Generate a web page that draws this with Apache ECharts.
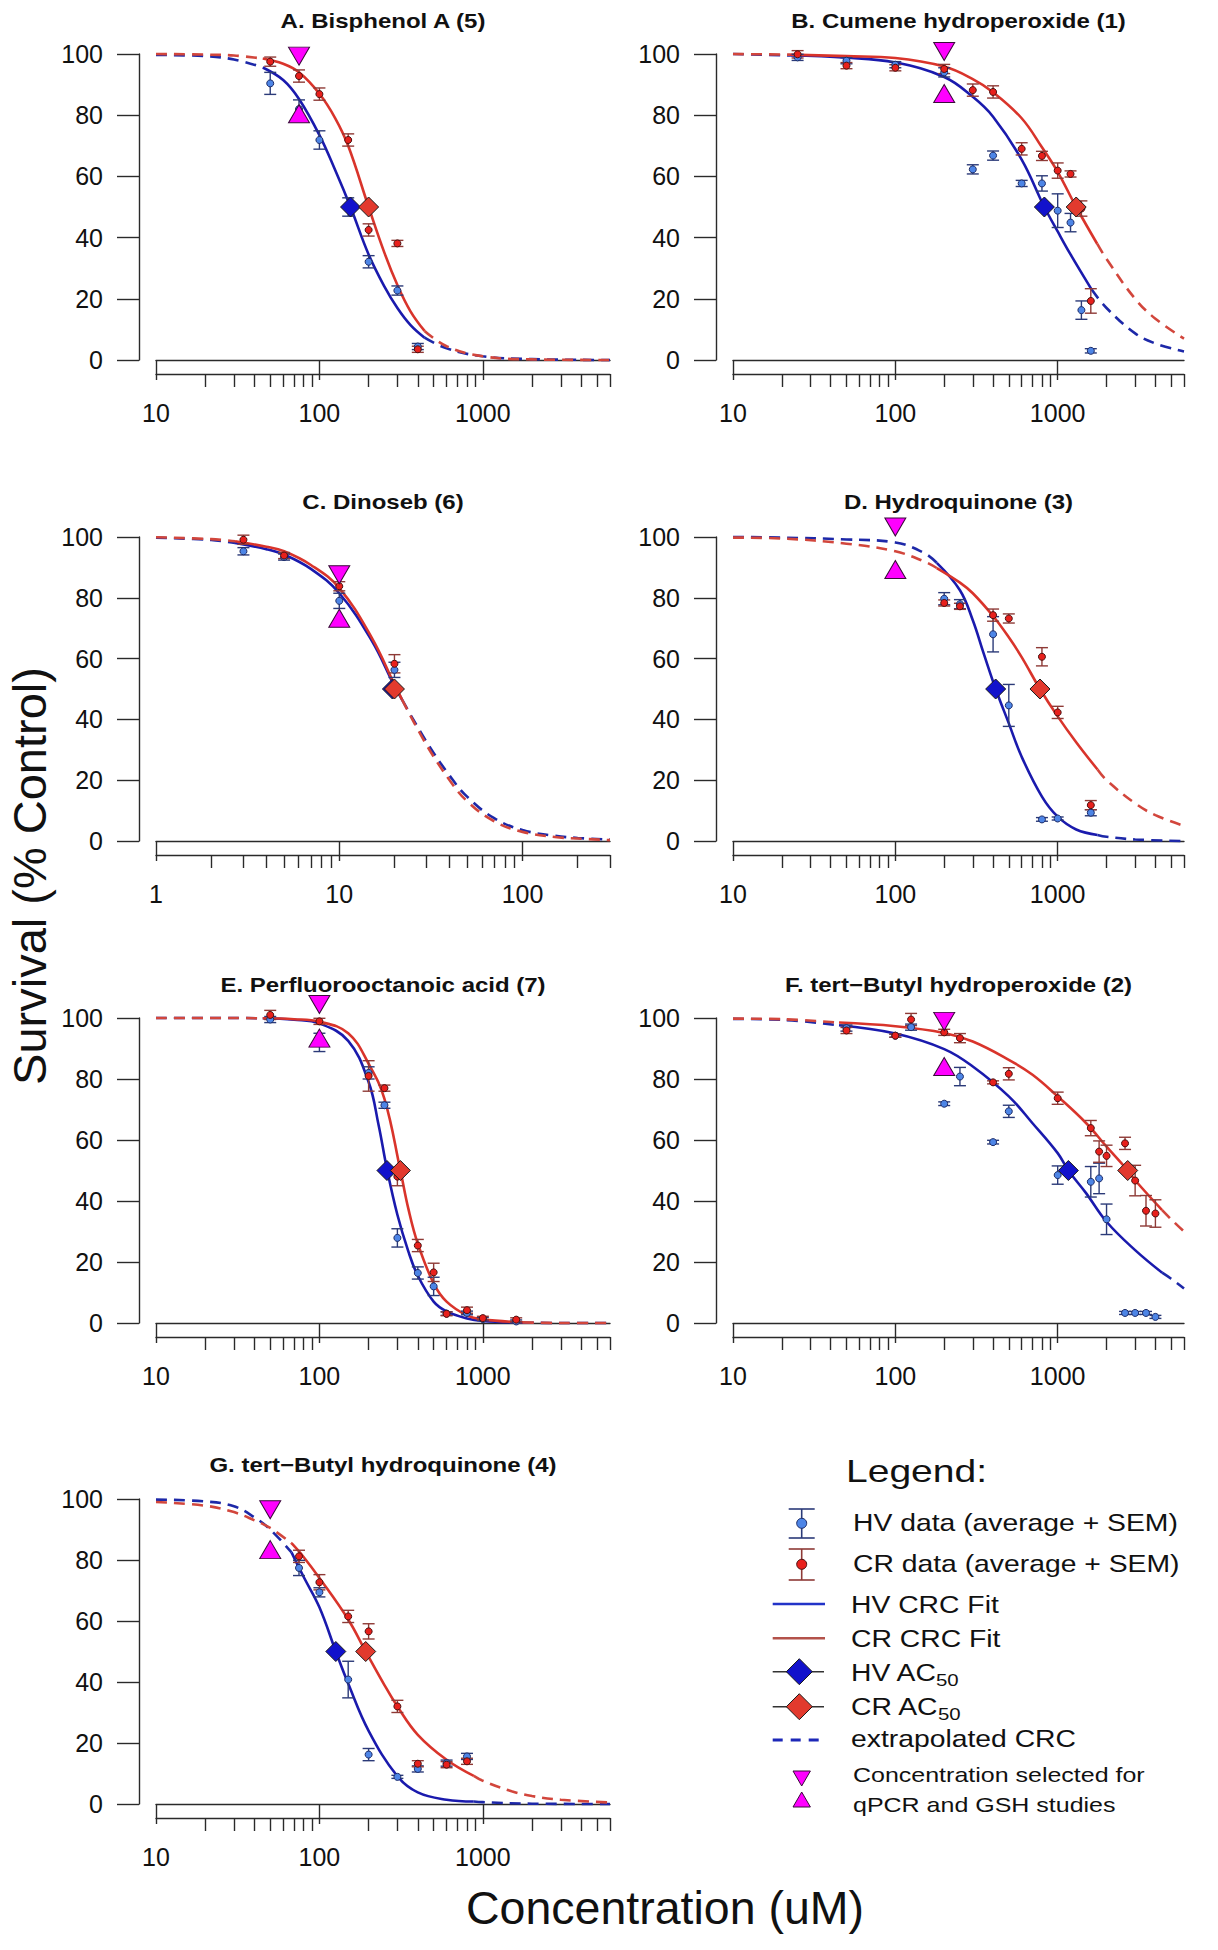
<!DOCTYPE html>
<html>
<head>
<meta charset="utf-8">
<script src="https://cdn.jsdelivr.net/npm/echarts@6/dist/echarts.min.js"></script>
<style>
html,body{margin:0;padding:0;background:#ffffff;}
#chart{width:1218px;height:1950px;}
</style>
</head>
<body>
<div id="chart"></div>
<script>
// ===================== DATA =====================
const titles = ['A. Bisphenol A (5)', 'B. Cumene hydroperoxide (1)', 'C. Dinoseb (6)', 'D. Hydroquinone (3)',
  'E. Perfluorooctanoic acid (7)', 'F. tert\u2212Butyl hydroperoxide (2)', 'G. tert\u2212Butyl hydroquinone (4)'];
const yTicks = [0, 20, 40, 60, 80, 100];
const rangeWide = [10, 6000];
const rangeC = [1, 300];
const labelsWide = [10, 100, 1000];
const labelsC = [1, 10, 100];
const minorWide = [20, 30, 40, 50, 60, 70, 80, 90, 200, 300, 400, 500, 600, 700, 800, 900, 2000, 3000, 4000, 5000, 6000];
const minorC = [2, 3, 4, 5, 6, 7, 8, 9, 20, 30, 40, 50, 60, 70, 80, 90, 200, 300];
const ac50Level = 50;

// ---- A. Bisphenol A ----
const aHvX = [50, 75, 100, 150, 200, 300, 400];
const aHvY = [90.4, 82, 71.9, 50, 32.1, 22.7, 4.4];
const aHvSem = [3.6, 3, 3, 3, 2, 1.5, 1];
const aCrX = [50, 75, 100, 150, 200, 300, 400];
const aCrY = [97.5, 92.8, 86.9, 71.9, 42.5, 38.1, 3.5];
const aCrSem = [1.5, 2, 2, 2, 2, 1, 1];
const aHvFitX = [10, 20, 30, 45, 60, 75, 100, 125, 155, 200, 250, 300, 360, 440, 600, 1000, 2000, 6000];
const aHvFitY = [99.7, 99.3, 98.2, 95.6, 91.5, 85.3, 73.5, 62, 50, 34.5, 24, 17, 11.5, 7.3, 3.8, 1.2, 0.3, 0];
const aCrFitX = [10, 20, 30, 45, 60, 75, 100, 125, 150, 200, 250, 300, 360, 440, 600, 1000, 2000, 6000];
const aCrFitY = [100, 99.8, 99.5, 98.5, 96.8, 94, 87, 79, 70, 50, 35, 24.5, 16, 9.5, 4.5, 1.2, 0.2, 0];
const aHvSolid = [45, 440];
const aCrSolid = [45, 440];
const aAc50 = [155, 200];
const aTriX = 75;
const aTriY = [99.3, 80.5];

// ---- B. Cumene hydroperoxide ----
const bHvX = [25, 50, 100, 200, 300, 400, 600, 800, 1000, 1200, 1400, 1600];
const bHvY = [98.9, 97.8, 96.5, 94, 62.3, 66.8, 57.7, 57.7, 48.8, 44.9, 16.3, 3.0];
const bHvSem = [1, 1, 1, 1.5, 1.5, 1.5, 1, 2.5, 5.5, 3, 3, 0.7];
const bCrX = [25, 50, 100, 200, 300, 400, 600, 800, 1000, 1200, 1400, 1600];
const bCrY = [99.9, 96.2, 95.5, 95.1, 88.2, 87.6, 69.0, 66.7, 61.9, 60.8, 49.5, 19.3];
const bCrSem = [1.2, 1, 1, 1.5, 2, 2, 2, 1.5, 2.5, 1, 2.5, 4];
const bHvFitX = [10, 22.5, 50, 100, 200, 300, 400, 600, 828, 1000, 1200, 1620, 2000, 3000, 4000, 6000];
const bHvFitY = [100, 99.5, 98.8, 97.2, 92.5, 86, 79.5, 65.5, 50, 42, 34.5, 23, 17, 8.7, 5.4, 2.8];
const bCrFitX = [10, 22.5, 50, 100, 200, 300, 400, 600, 800, 1000, 1300, 1750, 2000, 3000, 4000, 6000];
const bCrFitY = [100, 99.8, 99.3, 98.7, 95.9, 91.8, 87.5, 79, 69.5, 61.5, 50, 38, 33, 20, 13.5, 7];
const bHvSolid = [22.5, 1620];
const bCrSolid = [22.5, 1750];
const bAc50 = [828, 1300];
const bTriX = 200;
const bTriY = [100.8, 87.1];

// ---- C. Dinoseb ----
const cHvX = [3, 5, 10, 20];
const cHvY = [95.3, 93.4, 79, 56.3];
const cHvSem = [1.2, 1, 2.5, 2.5];
const cCrX = [3, 5, 10, 20];
const cCrY = [99.1, 93.9, 83.8, 58.3];
const cCrSem = [1.5, 1, 1.5, 3];
const cHvFitX = [1, 2, 2.7, 4, 5, 7, 10, 15, 20, 22, 30, 40, 50, 70, 100, 150, 200, 300];
const cHvFitY = [99.8, 99, 98, 96, 94.2, 89.5, 81.5, 66, 51, 46.5, 32.5, 21.5, 14.5, 7.5, 3.6, 1.7, 1, 0.5];
const cCrFitX = [1, 2, 2.7, 4, 5, 7, 10, 15, 20, 22, 30, 40, 50, 70, 100, 150, 200, 300];
const cCrFitY = [99.9, 99.3, 98.6, 96.8, 95.3, 90.8, 83.2, 67, 51.5, 46.5, 31.5, 20, 13, 6.5, 3, 1.3, 0.8, 0.3];
const cHvSolid = [2.7, 22];
const cCrSolid = [2.7, 22];
const cAc50 = [19.5, 20];
const cTriX = 10;
const cTriY = [87.6, 73.3];

// ---- D. Hydroquinone ----
const dHvX = [200, 250, 400, 500, 800, 1000, 1600];
const dHvY = [79.7, 77.9, 68.0, 44.6, 7.1, 7.4, 9.3];
const dHvSem = [2, 1.5, 5.8, 6.9, 0.6, 0.5, 1];
const dCrX = [200, 250, 400, 500, 800, 1000, 1600];
const dCrY = [78.3, 77.2, 74.3, 73.2, 60.6, 42.3, 11.8];
const dCrSem = [1, 1, 2, 1.5, 3, 2, 1.5];
const dHvFitX = [10, 20, 50, 100, 150, 180, 250, 300, 350, 415, 500, 600, 800, 1000, 1300, 1760, 2000, 3000, 6000];
const dHvFitY = [100, 99.8, 99.2, 98.2, 94.8, 91.5, 82.5, 72.6, 61.7, 50, 38.7, 27.7, 14.6, 8, 3.8, 2, 1.4, 0.5, 0];
const dCrFitX = [10, 20, 50, 100, 150, 180, 250, 300, 400, 500, 600, 778, 1000, 1300, 1760, 2000, 3000, 4000, 6000];
const dCrFitY = [99.8, 99.5, 97.8, 95.3, 92, 89.8, 85, 81.5, 74, 67, 60.5, 50, 41, 32.5, 23.5, 20, 12.4, 8.5, 5];
const dHvSolid = [180, 1760];
const dCrSolid = [180, 1760];
const dAc50 = [415, 778];
const dTriX = 100;
const dTriY = [103.3, 89.3];

// ---- E. Perfluorooctanoic acid ----
const eHvX = [50, 100, 200, 250, 300, 400, 500, 600, 800, 1000, 1600];
const eHvY = [99.5, 92, 82, 71.4, 27.9, 16.4, 12, 3.1, 3.3, 1.3, 0.5];
const eHvSem = [1, 3, 2, 1, 3, 2, 3, 0.6, 0.6, 0.5, 0.5];
const eCrX = [50, 100, 200, 250, 300, 400, 500, 600, 800, 1000, 1600];
const eCrY = [101, 98.9, 81, 77, 48, 25.4, 16.6, 3, 4.2, 1.6, 1.1];
const eCrSem = [1.5, 1, 5, 1, 3, 2, 3, 0.6, 1, 0.6, 0.6];
const eHvFitX = [10, 30, 45, 70, 100, 150, 200, 230, 259, 300, 350, 400, 500, 600, 800, 1000, 1760, 3000, 6000];
const eHvFitY = [100, 100, 99.9, 99.4, 98.2, 92.5, 79, 65, 50.5, 35.5, 23.5, 15.5, 7, 3.8, 1.5, 0.7, 0.1, 0, 0];
const eCrFitX = [10, 30, 45, 70, 100, 150, 200, 250, 313, 350, 400, 500, 600, 800, 1000, 1760, 3000, 6000];
const eCrFitY = [100, 100, 99.9, 99.6, 98.8, 95, 85, 73.5, 50, 37.5, 26, 13, 7, 2.5, 1.2, 0.2, 0, 0];
const eHvSolid = [45, 1760];
const eCrSolid = [45, 1760];
const eAc50 = [259, 313];
const eTriX = 100;
const eTriY = [104.4, 93.4];

// ---- F. tert-Butyl hydroperoxide ----
const fHvX = [50, 100, 125, 200, 250, 400, 500, 1000, 1600, 1800, 2000, 2600, 3000, 3500, 4000];
const fHvY = [96.7, 94.2, 97, 71.9, 80.8, 59.3, 69.4, 48.5, 46.3, 47.4, 34, 3.3, 3.3, 3.3, 2.0];
const fHvSem = [1, 0.5, 1, 0.6, 3, 0.6, 2, 3, 5, 5, 5, 0.5, 0.5, 0.5, 0.5];
const fCrX = [50, 100, 125, 200, 250, 400, 500, 1000, 1600, 1800, 2000, 2600, 3000, 3500, 4000];
const fCrY = [95.9, 94.2, 99.5, 95.3, 93.4, 78.9, 81.7, 73.7, 63.9, 56.2, 54.8, 58.9, 46.7, 36.8, 35.9];
const fCrSem = [1, 0.5, 2, 1, 1.5, 0.5, 2, 2, 2.5, 3.5, 3.5, 2, 5, 5, 4.5];
const fHvFitX = [10, 20, 45, 100, 200, 300, 500, 700, 1000, 1164, 1500, 2000, 3000, 4400, 5000, 6000];
const fHvFitY = [99.7, 99.4, 97.6, 94.9, 89.8, 84.1, 74.3, 65.5, 55.7, 50, 42.5, 33.2, 23.9, 16.5, 14.5, 11.3];
const fCrFitX = [10, 20, 45, 100, 200, 300, 500, 700, 1000, 1500, 2000, 2700, 3000, 4400, 5000, 6000];
const fCrFitY = [99.8, 99.6, 98.5, 97.3, 95.1, 92.3, 86.3, 81.4, 74.3, 65.5, 57.8, 50, 46.8, 37, 34, 30];
const fHvSolid = [45, 4400];
const fCrSolid = [45, 4400];
const fAc50 = [1164, 2700];
const fTriX = 200;
const fTriY = [98.9, 84.1];

// ---- G. tert-Butyl hydroquinone ----
const gHvX = [75, 100, 150, 200, 300, 400, 600, 800];
const gHvY = [77.4, 69.4, 40.8, 16.2, 8.9, 11.5, 13.4, 15.6];
const gHvSem = [2.5, 1.5, 6, 2, 0.5, 1, 1, 1];
const gCrX = [75, 100, 150, 200, 300, 400, 600, 800];
const gCrY = [81.2, 72.7, 61.5, 56.6, 32.0, 13.2, 12.9, 14.0];
const gCrSem = [2, 2.5, 2, 2.5, 2, 1, 1, 1];
const gHvFitX = [10, 20, 30, 40, 50, 67.5, 80, 100, 126, 150, 200, 300, 400, 600, 880, 1000, 2000, 6000];
const gHvFitY = [99.8, 99.2, 97.6, 94, 90, 82.5, 74.5, 64.5, 50, 39.5, 24, 9.1, 3.8, 1.4, 0.8, 0.6, 0.1, 0];
const gCrFitX = [10, 20, 30, 40, 50, 67.5, 80, 100, 150, 192, 250, 300, 400, 600, 880, 1000, 1500, 2000, 3000, 6000];
const gCrFitY = [99, 97.8, 95.7, 93, 90.5, 85.5, 81, 74.1, 60.5, 50, 39, 32, 22.7, 14.5, 9.2, 7.6, 4.2, 2.6, 1.4, 0.5];
const gHvSolid = [67.5, 880];
const gCrSolid = [67.5, 880];
const gAc50 = [126, 192];
const gTriX = 50;
const gTriY = [96.5, 83.4];

// Texts
const legendTitle = 'Legend:';
const legendLabels = ['HV data (average + SEM)', 'CR data (average + SEM)', 'HV CRC Fit', 'CR CRC Fit', 'HV AC', 'CR AC', 'extrapolated CRC', 'Concentration selected for', 'qPCR and GSH studies'];
const subscript = '50';
const yTitle = 'Survival (% Control)';
const xTitle = 'Concentration (uM)';

// ===================== assemble panels =====================
const panels = [
  {hv: [aHvX, aHvY, aHvSem, aHvFitX, aHvFitY, aHvSolid], cr: [aCrX, aCrY, aCrSem, aCrFitX, aCrFitY, aCrSolid], ac: aAc50, tx: aTriX, ty: aTriY, range: rangeWide, lab: labelsWide, minor: minorWide},
  {hv: [bHvX, bHvY, bHvSem, bHvFitX, bHvFitY, bHvSolid], cr: [bCrX, bCrY, bCrSem, bCrFitX, bCrFitY, bCrSolid], ac: bAc50, tx: bTriX, ty: bTriY, range: rangeWide, lab: labelsWide, minor: minorWide},
  {hv: [cHvX, cHvY, cHvSem, cHvFitX, cHvFitY, cHvSolid], cr: [cCrX, cCrY, cCrSem, cCrFitX, cCrFitY, cCrSolid], ac: cAc50, tx: cTriX, ty: cTriY, range: rangeC, lab: labelsC, minor: minorC},
  {hv: [dHvX, dHvY, dHvSem, dHvFitX, dHvFitY, dHvSolid], cr: [dCrX, dCrY, dCrSem, dCrFitX, dCrFitY, dCrSolid], ac: dAc50, tx: dTriX, ty: dTriY, range: rangeWide, lab: labelsWide, minor: minorWide},
  {hv: [eHvX, eHvY, eHvSem, eHvFitX, eHvFitY, eHvSolid], cr: [eCrX, eCrY, eCrSem, eCrFitX, eCrFitY, eCrSolid], ac: eAc50, tx: eTriX, ty: eTriY, range: rangeWide, lab: labelsWide, minor: minorWide},
  {hv: [fHvX, fHvY, fHvSem, fHvFitX, fHvFitY, fHvSolid], cr: [fCrX, fCrY, fCrSem, fCrFitX, fCrFitY, fCrSolid], ac: fAc50, tx: fTriX, ty: fTriY, range: rangeWide, lab: labelsWide, minor: minorWide},
  {hv: [gHvX, gHvY, gHvSem, gHvFitX, gHvFitY, gHvSolid], cr: [gCrX, gCrY, gCrSem, gCrFitX, gCrFitY, gCrSolid], ac: gAc50, tx: gTriX, ty: gTriY, range: rangeWide, lab: labelsWide, minor: minorWide}
];

// ===================== layout & style =====================
const FONT = '"Liberation Sans", Arial, Helvetica, sans-serif';
const colLeft = [156, 733];
const colWidth = [454, 451];
const rowTop = [54, 537, 1018, 1499];
const rowHeight = [306, 304, 305, 305];
const titleY = [21, 502, 985, 1465];
const AXIS = '#2a2a2a';
const C = {
  hvLine: '#1a1aad', crLine: '#d9342b',
  hvDash: '#1d28a8', crDash: '#d2463c',
  hvPt: '#4d85e6', hvPtBorder: '#1d2b66',
  crPt: '#e8201c', crPtBorder: '#4a1010',
  hvErr: '#2b3a78', crErr: '#8e3a36',
  hvDia: '#1212cc', crDia: '#e23a2e',
  tri: '#ff00ff'
};

const grids = [], xAxes = [], yAxes = [], series = [], graphics = [];

function split(xs, ys, lo, hi) {
  const L = [], M = [], R = [];
  xs.forEach((x, k) => {
    const p = [x, ys[k]];
    if (x <= lo) L.push(p);
    if (x >= lo && x <= hi) M.push(p);
    if (x >= hi) R.push(p);
  });
  return [L, M, R];
}

function errRender(color) {
  return function (params, api) {
    const x = api.value(0), lo = api.value(1), hi = api.value(2);
    const p1 = api.coord([x, lo]), p2 = api.coord([x, hi]);
    const w = 6;
    const st = {stroke: color, lineWidth: 1.4};
    return {type: 'group', children: [
      {type: 'line', shape: {x1: p1[0], y1: p1[1], x2: p2[0], y2: p2[1]}, style: st},
      {type: 'line', shape: {x1: p1[0] - w, y1: p1[1], x2: p1[0] + w, y2: p1[1]}, style: st},
      {type: 'line', shape: {x1: p2[0] - w, y1: p2[1], x2: p2[0] + w, y2: p2[1]}, style: st}
    ]};
  };
}

panels.forEach((p, i) => {
  const col = i % 2, row = Math.floor(i / 2);
  const left = colLeft[col], width = colWidth[col], top = rowTop[row], height = rowHeight[row];
  grids.push({left: left, top: top, width: width, height: height, containLabel: false});
  const base = {
    type: 'log', logBase: 10, gridIndex: i, min: p.range[0], max: p.range[1],
    position: 'bottom', offset: 14, splitLine: {show: false}, minorTick: {show: false},
    axisLine: {show: true, lineStyle: {color: AXIS, width: 1.4}}
  };
  xAxes.push(Object.assign({}, base, {
    axisTick: {show: true, length: 20, customValues: p.lab, lineStyle: {color: AXIS, width: 1.4}},
    axisLabel: {show: true, customValues: p.lab, fontSize: 25, fontFamily: FONT, color: '#111', margin: 26,
      formatter: v => String(Math.round(v))}
  }));
  xAxes.push(Object.assign({}, base, {
    axisTick: {show: true, length: 13, customValues: p.minor, lineStyle: {color: AXIS, width: 1.4}},
    axisLabel: {show: false}
  }));
  yAxes.push({
    type: 'value', gridIndex: i, min: yTicks[0], max: yTicks[yTicks.length - 1], interval: yTicks[1] - yTicks[0],
    position: 'left', offset: 17, splitLine: {show: false},
    axisLine: {show: true, lineStyle: {color: AXIS, width: 1.4}},
    axisTick: {show: true, length: 22, lineStyle: {color: AXIS, width: 1.4}},
    axisLabel: {fontSize: 25, fontFamily: FONT, color: '#111', margin: 36}
  });
  const xi = 2 * i, yi = i;
  // fitted curves (solid inside tested range, dashed extrapolation outside); CR drawn over HV
  [[p.hv, C.hvLine, C.hvDash, 2], [p.cr, C.crLine, C.crDash, 2.1]].forEach(([d, solidCol, dashCol, z]) => {
    const segs = split(d[3], d[4], d[5][0], d[5][1]);
    segs.forEach((seg, k) => {
      if (seg.length < 2) return;
      series.push({
        type: 'line', xAxisIndex: xi, yAxisIndex: yi, data: seg, showSymbol: false, symbol: 'none',
        smooth: 0.4, clip: false, silent: true, z: z,
        lineStyle: {color: k === 1 ? solidCol : dashCol, width: 2.6, type: k === 1 ? 'solid' : [11, 7], cap: 'butt'}
      });
    });
  });
  // error bars
  [[p.hv, C.hvErr], [p.cr, C.crErr]].forEach(([d, ec]) => {
    series.push({
      type: 'custom', xAxisIndex: xi, yAxisIndex: yi, clip: false, silent: true, z: 3,
      data: d[0].map((x, k) => [x, d[1][k] - d[2][k], d[1][k] + d[2][k]]),
      encode: {x: 0, y: [1, 2]}, renderItem: errRender(ec)
    });
  });
  // averages
  [[p.hv, C.hvPt, C.hvPtBorder], [p.cr, C.crPt, C.crPtBorder]].forEach(([d, pc, pb]) => {
    series.push({
      type: 'scatter', xAxisIndex: xi, yAxisIndex: yi, clip: false, silent: true, z: 4,
      data: d[0].map((x, k) => [x, d[1][k]]), symbol: 'circle', symbolSize: 7,
      itemStyle: {color: pc, borderColor: pb, borderWidth: 1, opacity: 1}
    });
  });
  // AC50 diamonds
  series.push({type: 'scatter', xAxisIndex: xi, yAxisIndex: yi, clip: false, silent: true, z: 5,
    data: [[p.ac[0], ac50Level]], symbol: 'diamond', symbolSize: [20, 20],
    itemStyle: {color: C.hvDia, borderColor: '#1a1a1a', borderWidth: 1, opacity: 1}});
  series.push({type: 'scatter', xAxisIndex: xi, yAxisIndex: yi, clip: false, silent: true, z: 5,
    data: [[p.ac[1], ac50Level]], symbol: 'diamond', symbolSize: [20, 20],
    itemStyle: {color: C.crDia, borderColor: '#1a1a1a', borderWidth: 1, opacity: 1}});
  // selected concentration triangles
  series.push({type: 'scatter', xAxisIndex: xi, yAxisIndex: yi, clip: false, silent: true, z: 6,
    data: [[p.tx, p.ty[0]]], symbol: 'triangle', symbolSize: [21, 18], symbolRotate: 180,
    itemStyle: {color: C.tri, borderColor: '#3a0a3a', borderWidth: 1, opacity: 1}});
  series.push({type: 'scatter', xAxisIndex: xi, yAxisIndex: yi, clip: false, silent: true, z: 6,
    data: [[p.tx, p.ty[1]]], symbol: 'triangle', symbolSize: [21, 18],
    itemStyle: {color: C.tri, borderColor: '#3a0a3a', borderWidth: 1, opacity: 1}});
  // panel title
  graphics.push({type: 'text', x: left + width / 2, y: titleY[row], scaleX: 1.2, silent: true,
    style: {text: titles[i], fontSize: 20, fontWeight: 'bold', fontFamily: FONT, fill: '#111',
      align: 'center', verticalAlign: 'middle', textAlign: 'center', textVerticalAlign: 'middle'}});
});

// axis titles
graphics.push({type: 'text', x: 29, y: 876, rotation: Math.PI / 2, silent: true,
  style: {text: yTitle, fontSize: 47, fontFamily: FONT, fill: '#111', align: 'center', verticalAlign: 'middle', textAlign: 'center', textVerticalAlign: 'middle'}});
graphics.push({type: 'text', x: 665, y: 1908, silent: true,
  style: {text: xTitle, fontSize: 46.5, fontFamily: FONT, fill: '#111', align: 'center', verticalAlign: 'middle', textAlign: 'center', textVerticalAlign: 'middle'}});

// legend (drawn as graphic elements)
function txt(x, y, s, size, sx) {
  return {type: 'text', x: x, y: y, scaleX: sx || 1, silent: true,
    style: {text: s, fontSize: size, fontFamily: FONT, fill: '#111', align: 'left', verticalAlign: 'middle', textAlign: 'left', textVerticalAlign: 'middle'}};
}
function hline(x1, x2, y, color, w, dash) {
  return {type: 'line', silent: true, shape: {x1: x1, y1: y, x2: x2, y2: y},
    style: {stroke: color, lineWidth: w, lineDash: dash || null}};
}
function errIcon(cx, y1, y2, yc, ec, fill, border) {
  return [
    {type: 'line', silent: true, shape: {x1: cx, y1: y1, x2: cx, y2: y2}, style: {stroke: ec, lineWidth: 1.6}},
    hline(cx - 13, cx + 13, y1, ec, 1.6), hline(cx - 13, cx + 13, y2, ec, 1.6),
    {type: 'circle', silent: true, shape: {cx: cx, cy: yc, r: 5}, style: {fill: fill, stroke: border, lineWidth: 1}}
  ];
}
function diamond(cx, cy, s, fill) {
  return {type: 'polygon', silent: true, shape: {points: [[cx, cy - s], [cx + s, cy], [cx, cy + s], [cx - s, cy]]},
    style: {fill: fill, stroke: '#1a1a1a', lineWidth: 1}};
}
const lgX = 801.7, lgT = 851;
graphics.push(txt(846, 1471, legendTitle, 32, 1.22));
errIcon(lgX, 1509, 1538, 1523.3, C.hvErr, C.hvPt, C.hvPtBorder).forEach(g => graphics.push(g));
graphics.push(txt(lgT + 2, 1523, legendLabels[0], 24, 1.18));
errIcon(lgX, 1549, 1580, 1564.3, C.crErr, C.crPt, C.crPtBorder).forEach(g => graphics.push(g));
graphics.push(txt(lgT + 2, 1564, legendLabels[1], 24, 1.18));
graphics.push(hline(772.7, 825, 1604, '#2233c8', 2.6));
graphics.push(txt(lgT, 1605, legendLabels[2], 24, 1.18));
graphics.push(hline(772.7, 825, 1638.3, '#b3524a', 2.6));
graphics.push(txt(lgT, 1639, legendLabels[3], 24, 1.18));
graphics.push(hline(772.7, 824, 1671.7, '#333333', 1.6));
graphics.push(diamond(799.3, 1671.7, 13, C.hvDia));
graphics.push(txt(lgT, 1673, legendLabels[4], 24, 1.18));
graphics.push(txt(lgT + 85, 1680, subscript, 17, 1.2));
graphics.push(hline(772.7, 824, 1706.7, '#333333', 1.6));
graphics.push(diamond(799.3, 1706.7, 13, C.crDia));
graphics.push(txt(lgT, 1707, legendLabels[5], 24, 1.18));
graphics.push(txt(lgT + 87, 1714, subscript, 17, 1.2));
graphics.push(hline(772.7, 826, 1740, '#1d28b8', 3, [10, 8]));
graphics.push(txt(lgT, 1739, legendLabels[6], 24, 1.18));
graphics.push({type: 'polygon', silent: true, shape: {points: [[793, 1771], [810.4, 1771], [801.7, 1786]]},
  style: {fill: C.tri, stroke: '#3a0a3a', lineWidth: 1}});
graphics.push({type: 'polygon', silent: true, shape: {points: [[793, 1807], [810.4, 1807], [801.7, 1792]]},
  style: {fill: C.tri, stroke: '#3a0a3a', lineWidth: 1}});
graphics.push(txt(lgT + 2, 1775, legendLabels[7], 21, 1.19));
graphics.push(txt(lgT + 2, 1805, legendLabels[8], 21, 1.19));

const chart = echarts.init(document.getElementById('chart'), null, {renderer: 'svg', width: 1218, height: 1950});
chart.setOption({
  backgroundColor: '#ffffff',
  animation: false,
  grid: grids,
  xAxis: xAxes,
  yAxis: yAxes,
  series: series,
  graphic: {elements: graphics}
});
</script>
</body>
</html>
